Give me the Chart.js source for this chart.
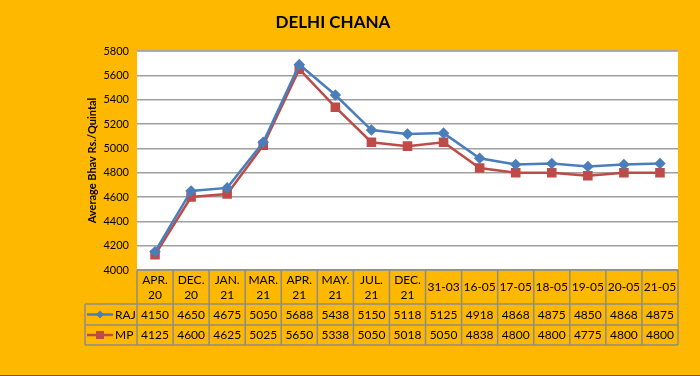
<!DOCTYPE html>
<html>
<head>
<meta charset="utf-8">
<script src="https://cdn.jsdelivr.net/npm/chart.js@4.4.1/dist/chart.umd.min.js"></script>
<style>
  html, body { margin: 0; padding: 0; background: #FFB800; }
  #wrap { width: 700px; height: 376px; position: relative; }
</style>
</head>
<body>
<div id="wrap"><canvas id="chana"></canvas></div>
<script>
// Delhi Chana average bhav (Rs./Quintal)
const chartTitle = 'DELHI CHANA';
const categories = [['APR.', '20'], ['DEC.', '20'], ['JAN.', '21'], ['MAR.', '21'], ['APR.', '21'],
    ['MAY.', '21'], ['JUL.', '21'], ['DEC.', '21'], '31-03', '16-05', '17-05', '18-05', '19-05', '20-05', '21-05'];
const rajValues = [4150, 4650, 4675, 5050, 5688, 5438, 5150, 5118, 5125, 4918, 4868, 4875, 4850, 4868, 4875];
const mpValues = [4125, 4600, 4625, 5025, 5650, 5338, 5050, 5018, 5050, 4838, 4800, 4800, 4775, 4800, 4800];
const seriesNames = ['RAJ', 'MP'];
const yMin = 4000, yMax = 5800, yStep = 200;

const BG = '#FFB800';
const BLUE = '#4A7EBB';
const RED = '#BE4B48';
const LINE_GREY = '#8C8C8C';
const FONT = 'Lato, "Open Sans", sans-serif';

// plot background, title and the data table under the plot
const tablePlugin = {
    id: 'dataTable',
    beforeDraw(chart) {
        const { ctx, chartArea: a } = chart;
        ctx.save();
        ctx.fillStyle = BG;
        ctx.fillRect(0, 0, chart.width, chart.height);
        ctx.fillStyle = '#fff';
        ctx.fillRect(a.left, a.top, a.right - a.left, a.bottom - a.top);
        ctx.restore();
    },
    afterDraw(chart) {
        const { ctx, chartArea: a } = chart;
        const xs = chart.scales.x;
        const colW = (a.right - a.left) / categories.length;
        const headTop = a.bottom, headBot = a.bottom + 34;
        const row1 = headBot + 21, row2 = row1 + 20;
        const legLeft = 85;

        ctx.save();
        // title
        ctx.fillStyle = '#000';
        ctx.font = 'bold 17px ' + FONT;
        ctx.textAlign = 'center';
        ctx.textBaseline = 'middle';
        ctx.fillText(chartTitle, 333, 23);

        // plot border (top)
        ctx.strokeStyle = '#A6A6A6';
        ctx.lineWidth = 1.5;
        ctx.beginPath();
        ctx.moveTo(a.left, a.top); ctx.lineTo(a.right, a.top);
        ctx.stroke();

        // bottom edge of the picture
        ctx.strokeStyle = '#6E5A2A';
        ctx.lineWidth = 1;
        ctx.beginPath();
        ctx.moveTo(0, chart.height - 0.5); ctx.lineTo(chart.width, chart.height - 0.5);
        ctx.stroke();

        // grid lines of table
        ctx.strokeStyle = LINE_GREY;
        ctx.lineWidth = 1.5;
        ctx.beginPath();
        ctx.moveTo(a.left, headTop); ctx.lineTo(a.right, headTop);
        [headBot, row1, row2].forEach(y => { ctx.moveTo(legLeft, y); ctx.lineTo(a.right, y); });
        ctx.moveTo(legLeft, headBot); ctx.lineTo(legLeft, row2);
        for (let i = 0; i <= categories.length; i++) {
            const x = a.left + i * colW;
            ctx.moveTo(x, headTop); ctx.lineTo(x, row2);
        }
        ctx.stroke();

        // header text
        ctx.fillStyle = '#000';
        ctx.font = '12px ' + FONT;
        categories.forEach((c, i) => {
            const x = xs.getPixelForValue(i);
            if (Array.isArray(c)) {
                ctx.fillText(c[0], x, headTop + 10);
                ctx.fillText(c[1], x, headTop + 25);
            } else {
                ctx.fillText(c, x, (headTop + headBot) / 2);
            }
        });

        // value rows
        const rows = [[rajValues, BLUE, 'rectRot', (headBot + row1) / 2], [mpValues, RED, 'rect', (row1 + row2) / 2]];
        rows.forEach(([vals, col, shape, y], r) => {
            ctx.fillStyle = '#000';
            ctx.textAlign = 'center';
            vals.forEach((v, i) => ctx.fillText(String(v), xs.getPixelForValue(i), y + 0.5));
            // legend key
            ctx.strokeStyle = col;
            ctx.lineWidth = 2.5;
            ctx.beginPath();
            ctx.moveTo(legLeft + 2, y); ctx.lineTo(legLeft + 28, y);
            ctx.stroke();
            ctx.fillStyle = col;
            if (shape === 'rectRot') {
                ctx.beginPath();
                ctx.moveTo(legLeft + 15, y - 4); ctx.lineTo(legLeft + 19, y);
                ctx.lineTo(legLeft + 15, y + 4); ctx.lineTo(legLeft + 11, y);
                ctx.closePath(); ctx.fill();
            } else {
                ctx.fillRect(legLeft + 11, y - 4, 8, 8);
            }
            ctx.fillStyle = '#000';
            ctx.textAlign = 'left';
            ctx.fillText(seriesNames[r], legLeft + 30, y + 0.5);
        });
        ctx.restore();
    }
};

new Chart(document.getElementById('chana'), {
    type: 'line',
    data: {
        labels: categories.map(c => Array.isArray(c) ? c.join(' ') : c),
        datasets: [{
            label: seriesNames[0],
            data: rajValues,
            borderColor: BLUE,
            backgroundColor: BLUE,
            borderWidth: 2.5,
            pointStyle: 'rectRot',
            pointRadius: 4,
            tension: 0
        }, {
            label: seriesNames[1],
            data: mpValues,
            borderColor: RED,
            backgroundColor: RED,
            borderWidth: 2.5,
            pointStyle: 'rect',
            pointRadius: 5,
            tension: 0
        }]
    },
    options: {
        responsive: true,
        maintainAspectRatio: false,
        animation: false,
        layout: { padding: { top: 51, right: 22, bottom: 98, left: 0 } },
        plugins: {
            legend: { display: false },
            tooltip: { enabled: false }
        },
        scales: {
            x: {
                offset: true,
                grid: { display: false },
                border: { display: false },
                ticks: { display: false }
            },
            y: {
                min: yMin,
                max: yMax,
                ticks: {
                    stepSize: yStep,
                    color: '#000',
                    font: { family: FONT, size: 11 },
                    padding: 8,
                    callback: v => String(v)
                },
                grid: { color: '#A0A0A0', lineWidth: 1.5, drawTicks: false },
                border: { display: false },
                title: {
                    display: true,
                    text: 'Average Bhav Rs./Quintal',
                    color: '#000',
                    font: { family: FONT, size: 11, weight: 'bold' },
                    padding: { top: 86, bottom: 0 }
                },
                afterFit(scale) { scale.width = 137; }
            }
        }
    },
    plugins: [tablePlugin]
});
</script>
</body>
</html>
